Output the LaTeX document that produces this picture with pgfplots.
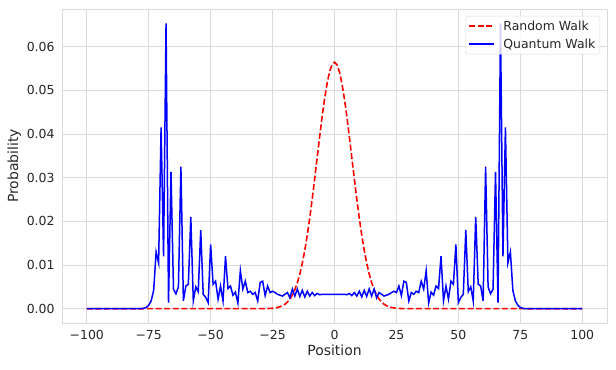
\documentclass[border=0pt]{standalone}
\usepackage{fontspec}
\setmainfont{DejaVu Sans}
\usepackage{pgfplots}
\pgfplotsset{compat=1.18}
\usetikzlibrary{calc}
\definecolor{gridgray}{RGB}{218,218,218}
\definecolor{txt}{RGB}{38,38,38}
\definecolor{rwred}{RGB}{255,0,0}
\definecolor{qwblue}{RGB}{0,0,255}

\begin{document}
\begin{tikzpicture}
\begin{axis}[name=ax,
  scale only axis, width=545bp, height=314bp,
  xmin=-110, xmax=110, ymin=-0.00327, ymax=0.0686,
  xtick={-100,-75,-50,-25,0,25,50,75,100},
  xticklabels={−100,−75,−50,−25,0,25,50,75,100},
  ytick={0,0.01,0.02,0.03,0.04,0.05,0.06},
  yticklabels={0.00,0.01,0.02,0.03,0.04,0.05,0.06},
  scaled y ticks=false,
  major tick length=0pt,
  grid=major,
  major grid style={draw=gridgray, line width=0.8bp},
  axis line style={draw=gridgray, line width=0.8bp},
  ticklabel style={font=\fontsize{12.5}{14}\selectfont, text=txt},
  xticklabel style={yshift=-4bp},
  yticklabel style={xshift=-4bp},
  xlabel={Position}, ylabel={Probability},
  label style={font=\fontsize{14}{16}\selectfont, text=txt},
  xlabel style={yshift=2bp},
  ylabel style={yshift=-1bp},
  legend cell align=left,
  legend style={at={(1,1)}, anchor=north east, xshift=-7bp, yshift=-7bp,
    draw=gridgray, rounded corners=3bp, fill=white, fill opacity=0.8,
    text opacity=1, font=\fontsize{12.5}{14}\selectfont, text=txt,
    inner xsep=3bp, inner ysep=3bp, row sep=4bp,
    nodes={inner sep=1.5bp},
    /tikz/every odd column/.append style={column sep=7bp}},
  legend image code/.code={\draw[#1] (0bp,0bp) -- (25bp,0bp);},
]
% random walk
\addplot[rwred, line width=1.6bp, dash pattern=on 6bp off 2.6bp] coordinates {
(-100,0) (-30,0.00001) (-28,0.00002) (-27,0.00004) (-26,0.00007) (-25,0.00011)
(-24,0.00018) (-23,0.00028) (-22,0.00045) (-21,0.00069) (-20,0.00103)
(-19,0.00153) (-18,0.00221) (-17,0.00313) (-16,0.00436) (-15,0.00594)
(-14,0.00794) (-13,0.01041) (-12,0.01336) (-11,0.01682) (-10,0.02075)
(-9,0.02509) (-8,0.02974) (-7,0.03455) (-6,0.03935) (-5,0.04392)
(-4,0.04806) (-3,0.05155) (-2,0.05419) (-1,0.05584) (0,0.05640)
(1,0.05584) (2,0.05419) (3,0.05155) (4,0.04806) (5,0.04392)
(6,0.03935) (7,0.03455) (8,0.02974) (9,0.02509) (10,0.02075)
(11,0.01682) (12,0.01336) (13,0.01041) (14,0.00794) (15,0.00594)
(16,0.00436) (17,0.00313) (18,0.00221) (19,0.00153) (20,0.00103)
(21,0.00069) (22,0.00045) (23,0.00028) (24,0.00018) (25,0.00011)
(26,0.00007) (27,0.00004) (28,0.00002) (30,0.00001) (100,0)
};
\addlegendentry{Random Walk}
% quantum walk
\addplot[qwblue, line width=1.5bp] coordinates {
(-100,0) (-78,0) (-77,0.0001) (-76,0.0003) (-75,0.0008) (-74,0.0018)
(-73,0.0042) (-72,0.0130) (-71,0.0105) (-70,0.0415) (-69,0.0120)
(-68,0.0653) (-67,0.0014) (-66,0.0313) (-65,0.0045) (-64,0.0034)
(-63,0.0050) (-62,0.0325) (-61,0.0018) (-60,0.0052) (-59,0.0056)
(-58,0.0210) (-57,0.0018) (-56,0.0050) (-55,0.0039) (-54,0.0180)
(-53,0.0033) (-52,0.0026) (-51,0.0014) (-50,0.0147) (-49,0.0056)
(-48,0.0063) (-47,0.0022) (-46,0.0052) (-45,0.0018) (-44,0.0120)
(-43,0.0046) (-42,0.0052) (-41,0.0031) (-40,0.0038) (-39,0.0013)
(-38,0.0087) (-37,0.0045) (-36,0.0063) (-35,0.0037) (-34,0.0040)
(-33,0.0033) (-32,0.0037) (-31,0.0018) (-30,0.0060) (-29,0.0063)
(-28,0.0030) (-27,0.0052) (-26,0.0037) (-25,0.0040) (-24,0.0037)
(-23,0.0033) (-22,0.0031) (-21,0.0029) (-20,0.0033) (-19,0.0037)
(-18,0.0025) (-17,0.0045) (-16,0.0029) (-15,0.0045) (-14,0.0028)
(-13,0.0042) (-12,0.0027) (-11,0.0040) (-10,0.0029) (-9,0.0037)
(-8,0.0030) (-7,0.0035) (-6,0.0032) (-5,0.0033) (-4,0.0033)
(-3,0.0033) (-2,0.0033) (-1,0.0033) (0,0.0033) (1,0.0033)
(2,0.0033) (3,0.0033) (4,0.0033) (5,0.0032) (6,0.0035)
(7,0.0030) (8,0.0037) (9,0.0029) (10,0.0040) (11,0.0027)
(12,0.0042) (13,0.0028) (14,0.0045) (15,0.0029) (16,0.0045)
(17,0.0025) (18,0.0037) (19,0.0033) (20,0.0029) (21,0.0031)
(22,0.0033) (23,0.0037) (24,0.0040) (25,0.0037) (26,0.0052)
(27,0.0030) (28,0.0063) (29,0.0060) (30,0.0018) (31,0.0037)
(32,0.0033) (33,0.0040) (34,0.0037) (35,0.0063) (36,0.0045)
(37,0.0087) (38,0.0013) (39,0.0038) (40,0.0031) (41,0.0052)
(42,0.0046) (43,0.0120) (44,0.0018) (45,0.0052) (46,0.0022)
(47,0.0063) (48,0.0056) (49,0.0147) (50,0.0014) (51,0.0026)
(52,0.0033) (53,0.0180) (54,0.0039) (55,0.0050) (56,0.0018)
(57,0.0210) (58,0.0056) (59,0.0052) (60,0.0018) (61,0.0325)
(62,0.0050) (63,0.0034) (64,0.0045) (65,0.0313) (66,0.0014)
(67,0.0653) (68,0.0120) (69,0.0415) (70,0.0105) (71,0.0130)
(72,0.0042) (73,0.0018) (74,0.0008) (75,0.0003) (76,0.0001)
(77,0) (100,0)
};
\addlegendentry{Quantum Walk}
\end{axis}
\path[use as bounding box] ($(ax.south west)+(-62bp,-47bp)$) rectangle ($(ax.north east)+(9bp,9bp)$);
\end{tikzpicture}
\end{document}
